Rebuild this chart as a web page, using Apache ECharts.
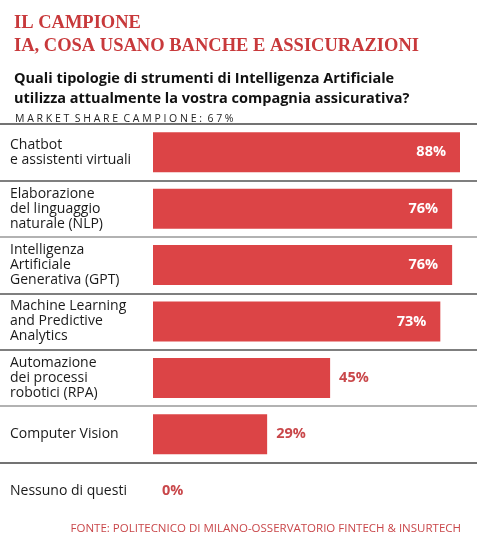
<!DOCTYPE html>
<html>
<head>
<meta charset="utf-8">
<script src="https://cdn.jsdelivr.net/npm/echarts@6/dist/echarts.min.js"></script>
<style>
  html, body { margin: 0; padding: 0; background: #fff; }
  #chart { width: 477px; height: 534px; }
</style>
</head>
<body>
<div id="chart"></div>
<script>
const categories = [
  "Chatbot\ne assistenti virtuali",
  "Elaborazione\ndel linguaggio\nnaturale (NLP)",
  "Intelligenza\nArtificiale\nGenerativa (GPT)",
  "Machine Learning\nand Predictive\nAnalytics",
  "Automazione\ndei processi\nrobotici (RPA)",
  "Computer Vision",
  "Nessuno di questi"
];
const values = [88, 76, 76, 73, 45, 29, 0];
const axisMax = 78; // the 88% bar is drawn capped at the right edge

const red = "#dc4446";
const textRed = "#c9474a";

const chart = echarts.init(document.getElementById("chart"));
chart.setOption({
  animation: false,
  grid: [
    { left: 153, right: 17, top: 124, height: 395 },
    { left: 0, right: 0, top: 124, height: 395 }
  ],
  title: [
    { text: "IL CAMPIONE\nIA, COSA USANO BANCHE E ASSICURAZIONI", left: 9, top: 7,
      textStyle: { fontFamily: "Liberation Serif", fontSize: 18.5, fontWeight: "bold", color: "#c8393b", lineHeight: 23 } },
    { text: "Quali tipologie di strumenti di Intelligenza Artificiale\nutilizza attualmente la vostra compagnia assicurativa?", left: 9, top: 64,
      textStyle: { fontFamily: "Open Sans", fontSize: 14.5, fontWeight: "bold", color: "#111", lineHeight: 20 } },
    { text: "M A R K E T  S H A R E  C A M P I O N E :  6 7 %", left: 10, top: 109,
      textStyle: { fontFamily: "Open Sans", fontSize: 10.5, fontWeight: "normal", color: "#222" } },
    { text: "FONTE: POLITECNICO DI MILANO-OSSERVATORIO FINTECH & INSURTECH", right: 11, top: 518,
      textStyle: { fontFamily: "Open Sans", fontSize: 11.5, fontWeight: "normal", color: textRed } }
  ],
  xAxis: [
    { type: "value", min: 0, max: axisMax, show: false, gridIndex: 0 },
    { type: "value", min: 0, max: 1, show: false, gridIndex: 1 }
  ],
  yAxis: [{
    type: "category", data: categories, inverse: true, gridIndex: 0,
    axisLine: { show: false }, axisTick: { show: false },
    axisLabel: { align: "left", margin: 143, fontFamily: "Open Sans", fontSize: 14, color: "#1a1a1a", lineHeight: 15 },
    splitLine: { show: false }
  }, {
    type: "category", data: categories, inverse: true, gridIndex: 1,
    axisLine: { show: false }, axisTick: { show: false }, axisLabel: { show: false },
    splitLine: { show: true, lineStyle: { width: 1.5, color: ["#444", "#555", "#999", "#555", "#555", "#999", "#444", "transparent"] } }
  }],
  series: [{
    type: "bar",
    xAxisIndex: 0, yAxisIndex: 0,
    data: values.map(v => {
      const d = { value: Math.min(v, axisMax) };
      if (v >= 60) d.label = { position: "insideRight", distance: 14, color: "#fff" };
      return d;
    }),
    barWidth: 40,
    itemStyle: { color: red },
    label: {
      show: true,
      fontFamily: "Open Sans", fontSize: 14.5, fontWeight: "bold",
      formatter: p => values[p.dataIndex] + "%",
      position: "right", distance: 9, color: textRed
    }
  }]
});
</script>
</body>
</html>
